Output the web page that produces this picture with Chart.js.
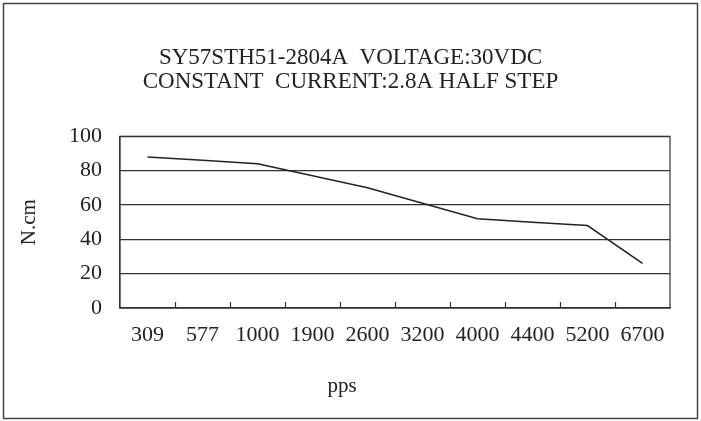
<!DOCTYPE html>
<html>
<head>
<meta charset="utf-8">
<script src="https://cdn.jsdelivr.net/npm/chart.js@4"></script>
<style>
	body { margin: 0; background: #fff; }
	canvas { display: block; }
</style>
</head>
<body>
<canvas id="chart" width="701" height="421"></canvas>
<script>
const speeds = ['309', '577', '1000', '1900', '2600', '3200', '4000', '4400', '5200', '6700'];
const torque = [88, 86, 84, 77, 70, 61, 52, 50, 48, 26];
const titleLines = ['SY57STH51-2804A  VOLTAGE:30VDC', 'CONSTANT  CURRENT:2.8A HALF STEP'];
const yTitle = 'N.cm';
const xTitle = 'pps';

const serif = 'Liberation Serif';
const ink = '#222';

// outer box, plot frame, tick marks pointing up inside the plot, x axis caption
const framePlugin = {
	id: 'frame',
	afterLayout(chart) {
		// centre the title on the whole box, not only on the padded area
		const t = chart.titleBlock;
		t.left = 0;
		t.right = chart.width;
		t.width = chart.width;
	},
	beforeDraw(chart) {
		const ctx = chart.ctx;
		ctx.save();
		ctx.fillStyle = '#fff';
		ctx.fillRect(0, 0, chart.width, chart.height);
		ctx.strokeStyle = '#444';
		ctx.lineWidth = 1.5;
		ctx.strokeRect(3.5, 3.5, chart.width - 7, chart.height - 6);
		ctx.restore();
	},
	afterDatasetsDraw(chart) {
		const ctx = chart.ctx;
		const a = chart.chartArea;
		const x = chart.scales.x;
		ctx.save();
		ctx.strokeStyle = '#333';
		ctx.lineWidth = 1.2;
		ctx.strokeRect(a.left, a.top, a.right - a.left, a.bottom - a.top);
		const half = (x.getPixelForValue(1) - x.getPixelForValue(0)) / 2;
		ctx.beginPath();
		for (let i = 1; i < speeds.length; i++) {
			const px = Math.round(x.getPixelForValue(i) - half) + 0.5;
			ctx.moveTo(px, a.bottom);
			ctx.lineTo(px, a.bottom - 6);
		}
		ctx.stroke();
		ctx.fillStyle = ink;
		ctx.font = '21px "' + serif + '"';
		ctx.textAlign = 'center';
		ctx.textBaseline = 'middle';
		ctx.fillText(xTitle, 342, 386);
		ctx.restore();
	},
};

const ctx = document.getElementById('chart').getContext('2d');
const myChart = new Chart(ctx, {
	type: 'line',
	data: {
		labels: speeds,
		datasets: [
			{
				data: torque,
				borderColor: ink,
				borderWidth: 1.5,
				pointRadius: 0,
				tension: 0,
				fill: false,
			},
		],
	},
	options: {
		responsive: false,
		animation: false,
		devicePixelRatio: 1,
		layout: {
			padding: { left: 17, right: 31, top: 10, bottom: 10 },
		},
		plugins: {
			legend: { display: false },
			tooltip: { enabled: false },
			title: {
				display: true,
				text: titleLines,
				color: ink,
				font: { family: serif, size: 23, weight: 'normal', lineHeight: 1.05 },
				padding: { top: 36, bottom: 42 },
			},
		},
		scales: {
			x: {
				offset: true,
				grid: { display: false, drawTicks: false },
				border: { display: true, color: '#333', width: 1.2 },
				ticks: {
					color: ink,
					padding: 14,
					maxRotation: 0,
					autoSkip: false,
					font: { family: serif, size: 22 },
				},
				afterFit(scale) {
					scale.height = 103;
				},
			},
			y: {
				min: 0,
				max: 100,
				ticks: {
					stepSize: 20,
					color: ink,
					padding: 18,
					font: { family: serif, size: 22 },
				},
				grid: { color: '#333', lineWidth: 1.2, drawTicks: false },
				border: { display: true, color: '#333', width: 1.2 },
				title: {
					display: true,
					text: yTitle,
					color: ink,
					font: { family: serif, size: 21, lineHeight: 1.15 },
					padding: { top: 0, bottom: 0 },
				},
				afterFit(scale) {
					scale.width = 103;
				},
			},
		},
	},
	plugins: [framePlugin],
});
</script>
</body>
</html>
